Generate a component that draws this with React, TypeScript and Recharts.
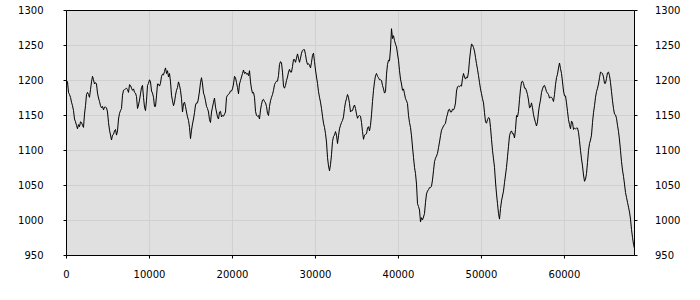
import React from "react";
import { LineChart, Line, XAxis, YAxis, CartesianGrid, ReferenceLine } from "recharts";

// x spacing between consecutive samples (x runs from 0 to ~68440)
const SAMPLE_STEP = 120.5;

const seg1 = [
  1200, 1198, 1183, 1180, 1176, 1169, 1164, 1157, 1145, 1141,
  1136, 1131, 1137, 1134, 1141, 1140, 1136, 1133, 1152, 1164,
  1180, 1183, 1180, 1176, 1187, 1198, 1206, 1201, 1195, 1197,
  1195, 1182, 1175, 1170, 1164, 1161, 1163, 1158, 1162, 1162,
  1161, 1155, 1140, 1129, 1122, 1115, 1122, 1123, 1128, 1130,
  1122, 1128, 1145, 1153, 1157, 1160, 1179, 1186, 1187, 1188,
  1189, 1187, 1183, 1194, 1193, 1189, 1186, 1188, 1183, 1182,
  1177, 1160, 1165, 1172, 1181, 1190, 1193, 1176, 1162, 1157,
  1171, 1193, 1196, 1201, 1198, 1185, 1182, 1176, 1163, 1163,
  1178, 1195, 1195, 1192, 1196,
];
const seg2 = [
  1206, 1209, 1208, 1213, 1218, 1210, 1214, 1205, 1210, 1198,
  1179, 1171, 1164, 1169, 1179, 1186, 1190, 1198, 1193, 1186,
  1174, 1155, 1167, 1169, 1163, 1155, 1148, 1143, 1133, 1117,
  1129, 1138, 1145, 1154, 1165, 1168, 1168, 1175, 1185, 1197,
  1204, 1195, 1182, 1178, 1171, 1163, 1160, 1155, 1144, 1140,
  1155, 1162, 1169, 1175, 1162, 1155, 1148, 1145, 1155, 1156,
  1148, 1150, 1149, 1152, 1155, 1176, 1179, 1180, 1182, 1185,
  1185, 1188, 1195, 1206, 1204, 1197, 1190, 1181, 1195, 1200,
  1205, 1210, 1215, 1210, 1212, 1209, 1210, 1207, 1214, 1198,
  1188, 1182, 1183, 1176, 1156,
];
const seg3 = [
  1150, 1149, 1150, 1145, 1158, 1166, 1172, 1173, 1170, 1168,
  1163, 1153, 1150, 1163, 1171, 1176, 1180, 1186, 1194, 1197,
  1199, 1199, 1207, 1223, 1227, 1225, 1212, 1192, 1189, 1193,
  1200, 1205, 1212, 1216, 1212, 1212, 1220, 1230, 1230, 1226,
  1232, 1238, 1232, 1226, 1232, 1239, 1243, 1244, 1244, 1237,
  1228, 1223, 1224, 1222, 1218, 1226, 1236, 1239, 1227, 1215,
  1205, 1196, 1184, 1176, 1169, 1160, 1149, 1139, 1133, 1124,
  1112, 1090, 1078, 1071, 1080, 1094, 1113, 1120, 1122, 1127,
  1122, 1110, 1121, 1131, 1136, 1140, 1143, 1148, 1160, 1169,
  1174, 1180, 1176, 1167, 1155,
];
const seg4 = [
  1157, 1157, 1162, 1165, 1160, 1152, 1146, 1149, 1150, 1149,
  1140, 1127, 1116, 1122, 1123, 1124, 1132, 1134, 1128, 1136,
  1151, 1170, 1186, 1198, 1207, 1210, 1206, 1204, 1201, 1201,
  1200, 1193, 1188, 1182, 1184, 1209, 1223, 1229, 1228, 1245,
  1274, 1260, 1264, 1257, 1252, 1248, 1238, 1229, 1214, 1202,
  1195, 1186, 1188, 1181, 1174, 1171, 1167, 1150, 1140, 1133,
  1121, 1105, 1090, 1076, 1067, 1052, 1024, 1020, 1015, 998,
  1004, 1001, 1005, 1010, 1026, 1038, 1042, 1044, 1047, 1047,
  1049, 1058, 1071, 1084, 1089, 1092, 1096, 1104, 1112, 1121,
  1129, 1132, 1135, 1137, 1139,
];
const seg5 = [
  1147, 1152, 1158, 1159, 1155, 1155, 1159, 1158, 1161, 1168,
  1185, 1191, 1192, 1191, 1193, 1192, 1203, 1210, 1205, 1202,
  1205, 1204, 1212, 1229, 1242, 1252, 1251, 1247, 1242, 1233,
  1224, 1216, 1207, 1197, 1188, 1181, 1174, 1168, 1154, 1141,
  1139, 1144, 1147, 1146, 1133, 1116, 1100, 1088, 1076, 1055,
  1038, 1024, 1010, 1002, 1017, 1028, 1035, 1042, 1054, 1065,
  1076, 1091, 1106, 1121, 1126, 1128, 1124, 1124, 1118, 1130,
  1150, 1148, 1156, 1173, 1188, 1198, 1199, 1196, 1189, 1189,
  1185, 1180, 1172, 1161, 1162, 1168, 1161, 1151, 1145, 1140,
  1135, 1141, 1155, 1165, 1172,
];
const seg6 = [
  1183, 1188, 1192, 1193, 1189, 1184, 1182, 1180, 1175, 1176,
  1176, 1174, 1170, 1180, 1194, 1204, 1209, 1218, 1225, 1217,
  1210, 1198, 1185, 1178, 1178, 1168, 1156, 1144, 1137, 1131,
  1142, 1140, 1130, 1132, 1131, 1132, 1132, 1126, 1114, 1100,
  1088, 1078, 1065, 1056, 1059, 1067, 1083, 1100, 1110, 1115,
  1122, 1140, 1154, 1164, 1176, 1184, 1189, 1195, 1204, 1212,
  1211, 1210, 1205, 1196, 1196, 1203, 1211, 1212, 1207, 1197,
  1184, 1171, 1160, 1152, 1151, 1146, 1136, 1127, 1115, 1100,
  1084, 1072, 1063, 1052, 1040, 1033, 1026, 1019, 1012, 1002,
  987, 976, 966, 960,
];

const values = [...seg1, ...seg2, ...seg3, ...seg4, ...seg5, ...seg6];

const xTicks = [0, 10000, 20000, 30000, 40000, 50000, 60000];
const yTicks = [950, 1000, 1050, 1100, 1150, 1200, 1250, 1300];

const data = values.map((v, i) => ({ x: i * SAMPLE_STEP, y: v }));

const tickStyle = { fontSize: 10, fontFamily: "DejaVu Sans", fill: "#000" };

export default function App() {
  return (
    <div style={{ position: "absolute", left: 0, top: 0 }}>
      <LineChart
        width={700}
        height={300}
        data={data}
        margin={{ top: 10.5, right: 0, left: 0, bottom: 0 }}
      >
        <CartesianGrid yAxisId="left" fill="#e0e0e0" stroke="#d0d0d0" strokeWidth={1} />
        <XAxis
          dataKey="x"
          type="number"
          domain={[0, "dataMax"]}
          ticks={xTicks}
          height={44.5}
          tickSize={3}
          tickMargin={12.5}
          tick={tickStyle}
          axisLine={{ stroke: "#000" }}
          tickLine={{ stroke: "#000" }}
          interval={0}
        />
        <YAxis
          yAxisId="left"
          type="number"
          domain={[950, 1300]}
          ticks={yTicks}
          width={66.5}
          tickSize={3}
          tickMargin={20}
          tick={tickStyle}
          axisLine={{ stroke: "#000" }}
          tickLine={{ stroke: "#000" }}
          interval={0}
        />
        <YAxis
          yAxisId="right"
          type="number"
          orientation="right"
          domain={[950, 1300]}
          ticks={yTicks}
          width={65.5}
          tickSize={3}
          tickMargin={17.5}
          tick={tickStyle}
          axisLine={{ stroke: "#000" }}
          tickLine={{ stroke: "#000" }}
          interval={0}
        />
        <ReferenceLine yAxisId="left" y={1300} stroke="#000" strokeWidth={1} />
        <Line
          yAxisId="right"
          type="linear"
          dataKey="y"
          stroke="none"
          strokeWidth={0}
          dot={false}
          activeDot={false}
          legendType="none"
          isAnimationActive={false}
        />
        <Line
          yAxisId="left"
          type="linear"
          dataKey="y"
          stroke="#000"
          strokeWidth={1}
          dot={false}
          isAnimationActive={false}
        />
      </LineChart>
    </div>
  );
}
